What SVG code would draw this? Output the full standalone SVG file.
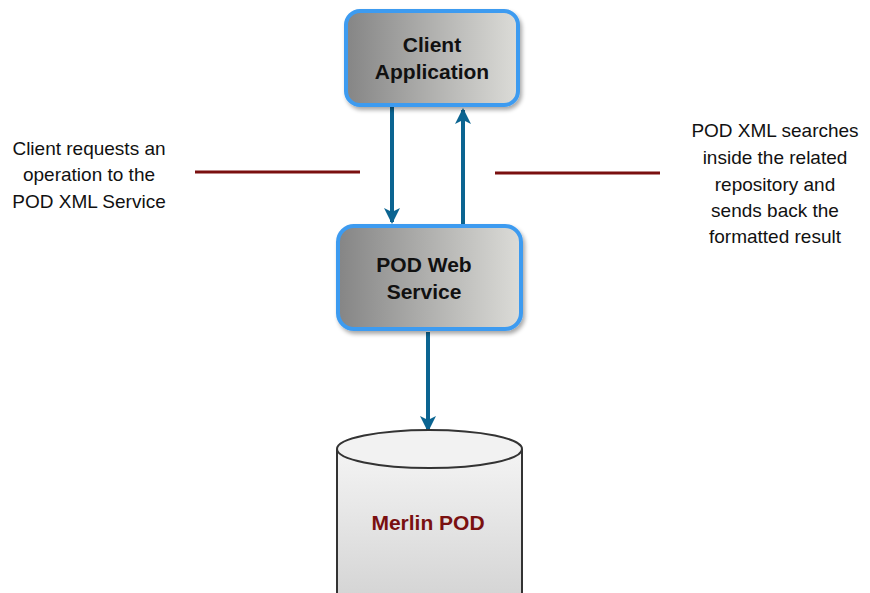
<svg xmlns="http://www.w3.org/2000/svg" width="870" height="593" viewBox="0 0 870 593">
<defs>
<linearGradient id="boxg" x1="0" y1="0" x2="1" y2="0">
<stop offset="0" stop-color="#858585"/>
<stop offset="1" stop-color="#dcdcd8"/>
</linearGradient>
<linearGradient id="cylg" x1="0" y1="0" x2="0" y2="1">
<stop offset="0" stop-color="#f4f4f4"/>
<stop offset="1" stop-color="#d4d4d4"/>
</linearGradient>
<marker id="ah" markerWidth="16" markerHeight="16" refX="14" refY="8" orient="auto" markerUnits="userSpaceOnUse" viewBox="0 0 16 16">
<path d="M0,0 L16,8 L0,16 L4,8 Z" fill="#0b6491"/>
</marker>
<filter id="sh" x="-10%" y="-10%" width="130%" height="130%">
<feGaussianBlur in="SourceAlpha" stdDeviation="2"/>
<feOffset dx="2" dy="3"/>
<feComponentTransfer><feFuncA type="linear" slope="0.35"/></feComponentTransfer>
<feMerge><feMergeNode/><feMergeNode in="SourceGraphic"/></feMerge>
</filter>
</defs>
<style>
.box{fill:url(#boxg);stroke:#3d9bf0;stroke-width:4;}
.nt{font-family:"Liberation Sans",Arial,sans-serif;font-weight:bold;font-size:21px;fill:#111;text-anchor:middle;}
.lt{font-family:"Liberation Sans",Arial,sans-serif;font-size:19px;fill:#111;text-anchor:middle;}
.conn{stroke:#0b6491;stroke-width:4;fill:none;}
.lead{stroke:#7a0f0f;stroke-width:3;}
</style>
<g id="connectors">
<line class="conn" x1="392" y1="107" x2="392" y2="222" marker-end="url(#ah)"/>
<line class="conn" x1="463" y1="225" x2="463" y2="110" marker-end="url(#ah)"/>
<line class="conn" x1="428" y1="332" x2="428" y2="430" marker-end="url(#ah)"/>
<line class="lead" x1="195" y1="172" x2="360" y2="172"/>
<line class="lead" x1="495" y1="173" x2="660" y2="173"/>
</g>
<g id="client-app">
<rect class="box" x="346" y="11" width="172" height="94" rx="14" filter="url(#sh)"/>
<text class="nt" x="432" y="52">Client</text>
<text class="nt" x="432" y="79">Application</text>
</g>
<g id="pod-web-service">
<rect class="box" x="338" y="226" width="183" height="103" rx="16" filter="url(#sh)"/>
<text class="nt" x="424" y="272">POD Web</text>
<text class="nt" x="424" y="299">Service</text>
</g>
<g id="merlin-pod">
<path d="M337,449 L337,600 L522,600 L522,449" fill="url(#cylg)" stroke="#333" stroke-width="2"/>
<ellipse cx="429.5" cy="449" rx="92.5" ry="19" fill="#f2f2f2" stroke="#333" stroke-width="2"/>
<text class="nt" x="428" y="530" style="fill:#7a1010;font-size:21px">Merlin POD</text>
</g>
<g id="note-left">
<text class="lt" x="89" y="155">Client requests an</text>
<text class="lt" x="89" y="181">operation to the</text>
<text class="lt" x="89" y="208">POD XML Service</text>
</g>
<g id="note-right">
<text class="lt" x="775" y="137">POD XML searches</text>
<text class="lt" x="775" y="164">inside the related</text>
<text class="lt" x="775" y="191">repository and</text>
<text class="lt" x="775" y="217">sends back the</text>
<text class="lt" x="775" y="243">formatted result</text>
</g>
</svg>
